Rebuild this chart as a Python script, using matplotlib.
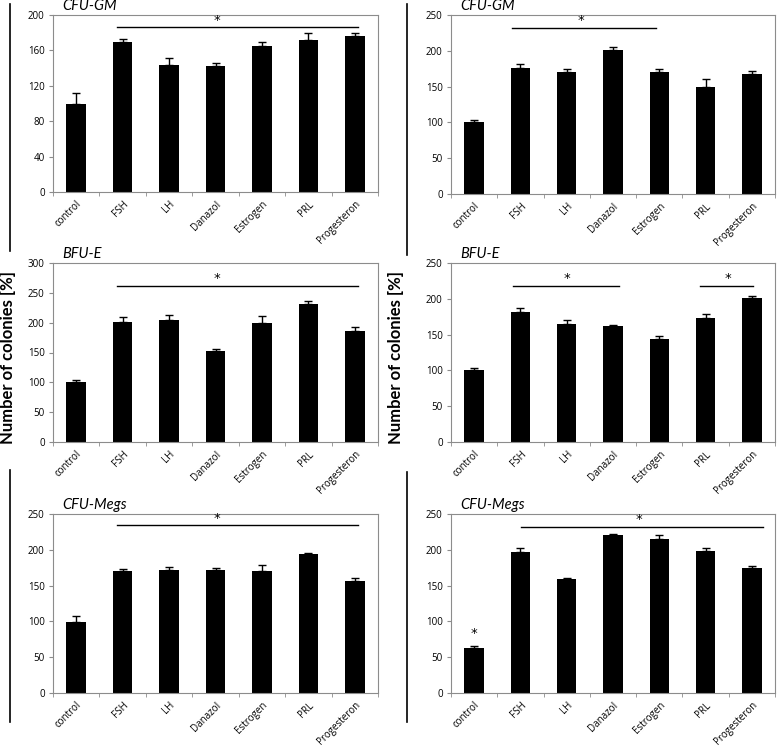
import numpy as np
import matplotlib
matplotlib.use('Agg')
import matplotlib.pyplot as plt
from matplotlib.lines import Line2D

plt.rcParams['font.family'] = ['Lato', 'DejaVu Sans']

categories = ['control', 'FSH', 'LH', 'Danazol', 'Estrogen', 'PRL', 'Progesteron']

# panel titles
titles = ['CFU-GM', 'CFU-GM', 'BFU-E', 'BFU-E', 'CFU-Megs', 'CFU-Megs']

# bar heights (% of control)
gm_left = [100, 169, 144, 142, 165, 172, 176]
gm_right = [100, 176, 171, 201, 170, 149, 168]
bfu_left = [100, 201, 204, 152, 200, 232, 186]
bfu_right = [100, 181, 165, 162, 144, 173, 201]
meg_left = [99, 170, 172, 172, 170, 194, 157]
meg_right = [63, 197, 159, 221, 215, 199, 174]

# upper error bars
gm_left_err = [12, 4, 7, 4, 5, 8, 4]
gm_right_err = [3, 5, 4, 5, 5, 11, 4]
bfu_left_err = [4, 8, 9, 4, 12, 5, 6]
bfu_right_err = [3, 6, 6, 2, 4, 6, 3]
meg_left_err = [8, 3, 4, 3, 9, 2, 3]
meg_right_err = [3, 6, 1, 1, 5, 3, 3]

# y axis limits and tick step
ymax = [200, 250, 300, 250, 250, 250]
ystep = [40, 50, 50, 50, 50, 50]

# significance bars: (x start, x end, y, star x)
sig_lines = [
    [(0.88, 6.07, 186, 3.03)],
    [(0.82, 3.93, 232, 2.31)],
    [(0.88, 6.07, 261, 3.03)],
    [(0.84, 3.14, 218, 2.01), (4.87, 6.02, 218, 5.48)],
    [(0.88, 6.07, 234, 3.03)],
    [(1.01, 6.24, 232, 3.57)],
]
# single stars over bars: (x, y)
sig_points = [[], [], [], [], [], [(0, 74)]]

values = [gm_left, gm_right, bfu_left, bfu_right, meg_left, meg_right]
errors = [gm_left_err, gm_right_err, bfu_left_err, bfu_right_err, meg_left_err, meg_right_err]

W, H = 777, 749
fig = plt.figure(figsize=(W / 100, H / 100), dpi=100)

# axes boxes in pixels: left, top, right, bottom
boxes = [
    (53, 15, 378, 192), (451, 15, 775, 194),
    (53, 263, 378, 442), (451, 263, 775, 442),
    (53, 514, 378, 693), (451, 514, 775, 693),
]

frame = '#8c8c8c'
x = np.arange(len(categories))
star = dict(family='DejaVu Sans', fontsize=9.5, ha='center', va='bottom')

for i, (l, t, r, b) in enumerate(boxes):
    ax = fig.add_axes([l / W, 1 - b / H, (r - l) / W, (b - t) / H])
    vals = values[i]
    err = errors[i]
    ax.bar(x, vals, width=0.42, color='black', zorder=2)
    ax.errorbar(x, vals, yerr=[np.zeros(len(err)), err], fmt='none',
                ecolor='black', elinewidth=1, capsize=3, capthick=1, zorder=1)
    ax.set_xlim(-0.5, 6.5)
    ax.set_ylim(0, ymax[i])
    ax.set_yticks(np.arange(0, ymax[i] + 1, ystep[i]))
    ax.set_xticks(x)
    ax.set_xticklabels(categories, rotation=45, ha='right', va='top',
                       rotation_mode='anchor', fontsize=7, family='Open Sans')
    ax.set_xticks(np.arange(-0.5, 7, 1), minor=True)
    ax.tick_params(axis='x', which='major', length=0, pad=5)
    ax.tick_params(axis='x', which='minor', length=3, color=frame, direction='out')
    ax.tick_params(axis='y', length=3, color=frame, labelsize=7, pad=3)
    for lab in ax.get_yticklabels():
        lab.set_family('Open Sans')
    for s in ax.spines.values():
        s.set_color(frame)
        s.set_linewidth(0.8)
    ax.text(0.03, 1.01, titles[i], transform=ax.transAxes, fontsize=10.5,
            style='italic', ha='left', va='bottom')
    for (x0, x1, yv, xs) in sig_lines[i]:
        ax.plot([x0, x1], [yv, yv], color='black', lw=1)
        ax.text(xs, yv + ymax[i] * 0.005, '*', **star)
    for (xp, yp) in sig_points[i]:
        ax.text(xp, yp, '*', **star)

# y labels
fig.text(8 / W, 1 - 358 / H, 'Number of colonies [%]', rotation=90,
         ha='center', va='center', fontsize=12, fontweight='bold')
fig.text(396 / W, 1 - 358 / H, 'Number of colonies [%]', rotation=90,
         ha='center', va='center', fontsize=12, fontweight='bold')

# vertical bracket lines along the left of each column
for xp, segs in [(10, [(4, 251), (470, 722)]), (407, [(4, 255), (472, 722)])]:
    for (y0, y1) in segs:
        fig.add_artist(Line2D([xp / W, xp / W], [1 - y0 / H, 1 - y1 / H],
                              color='black', lw=1.2))

fig.savefig('out.png', dpi=100)
